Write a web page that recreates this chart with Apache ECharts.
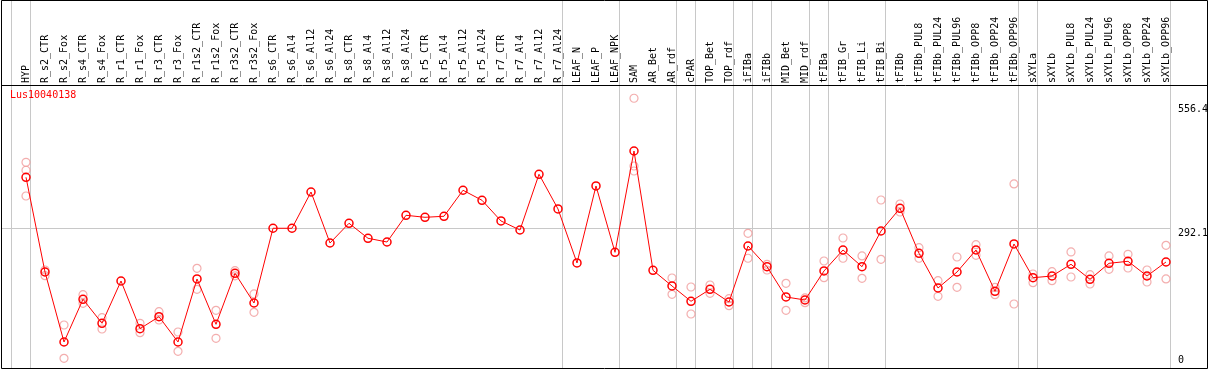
<!DOCTYPE html>
<html><head><meta charset="utf-8">
<script src="https://cdn.jsdelivr.net/npm/echarts@6/dist/echarts.min.js"></script>
<style>html,body{margin:0;padding:0;background:#fff}#c{width:1209px;height:370px}</style>
</head><body><div id="c"></div>
<script>
const categories = ['HYP','R_s2_CTR','R_s2_Fox','R_s4_CTR','R_s4_Fox','R_r1_CTR','R_r1_Fox','R_r3_CTR','R_r3_Fox','R_r1s2_CTR','R_r1s2_Fox','R_r3s2_CTR','R_r3s2_Fox','R_s6_CTR','R_s6_Al4','R_s6_Al12','R_s6_Al24','R_s8_CTR','R_s8_Al4','R_s8_Al12','R_s8_Al24','R_r5_CTR','R_r5_Al4','R_r5_Al12','R_r5_Al24','R_r7_CTR','R_r7_Al4','R_r7_Al12','R_r7_Al24','LEAF_N','LEAF_P','LEAF_NPK','SAM','AR_Bet','AR_rdf','cPAR','TOP_Bet','TOP_rdf','iFIBa','iFIBb','MID_Bet','MID_rdf','tFIBa','tFIB_Gr','tFIB_Li','tFIB_Bi','tFIBb','tFIBb_PUL8','tFIBb_PUL24','tFIBb_PUL96','tFIBb_OPP8','tFIBb_OPP24','tFIBb_OPP96','sXYLa','sXYLb','sXYLb_PUL8','sXYLb_PUL24','sXYLb_PUL96','sXYLb_OPP8','sXYLb_OPP24','sXYLb_OPP96'];
const meanValues = [400.6,199.2,50.4,141.2,90.2,180.1,78.7,104.2,50.4,184.4,88.0,196.5,133.3,292.2,292.2,369.3,260.9,302.8,270.9,263.0,319.8,315.5,317.7,373.0,351.7,307.7,288.5,407.0,333.2,218.4,382.1,241.1,456.5,202.8,169.5,136.9,162.4,135.4,254.5,210.5,146.1,139.7,201.4,246.0,210.5,286.4,334.7,239.0,165.2,199.2,246.0,158.2,258.8,187.1,190.7,215.6,183.7,217.7,222.0,190.7,220.5];
const rep1 = [432.5,203.5,86.5,151.0,102.1,null,90.2,114.8,71.7,207.1,117.8,202.0,152.5,null,null,null,null,null,null,null,null,null,null,null,null,null,null,null,null,null,null,null,568.6,null,186.5,167.3,171.6,142.5,281.5,215.6,175.2,144.0,222.6,271.5,233.3,352.3,343.8,250.9,180.7,231.1,257.3,166.7,386.4,195.0,199.9,241.8,193.5,233.3,236.9,203.5,256.0];
const rep2 = [415.5,191.4,15.7,132.7,78.0,null,70.2,97.2,30.6,162.4,58.3,191.0,113.5,null,null,null,null,null,null,null,null,null,null,null,null,null,null,null,null,null,null,null,424.6,null,151.8,109.9,153.9,127.6,228.4,203.5,117.8,134.0,187.1,228.4,185.8,226.2,326.8,228.4,147.6,166.7,234.7,151.0,131.2,176.5,180.7,188.6,173.7,205.0,207.7,178.0,184.4];
const rep3 = [360.8,null,null,null,null,null,null,null,null,null,null,null,null,null,null,null,null,null,null,null,null,null,null,null,null,null,null,null,null,null,null,null,414.0,null,null,null,null,null,null,null,null,null,null,null,null,null,null,null,null,null,null,null,null,null,null,null,null,null,null,null,null];
const groupBreaks = [0,1,29,32,35,36,38,39,40,42,43,46,53,54,61];
const axisTickLabels = [556.4, 292.1, 0];
const refLineValue = 292.1;
const geneName = 'Lus10040138';

const FONT = 'DejaVu Sans Mono';

function pairs(arr){ const out=[]; arr.forEach((v,i)=>{ if(v!==null) out.push([i,v]); }); return out; }

const chart = echarts.init(document.getElementById('c'), null, {renderer:'canvas'});
const repSeries = [rep1,rep2,rep3].map(r=>({
  type:'scatter', data:pairs(r), symbol:'circle', symbolSize:8, z:2,
  itemStyle:{color:'rgba(0,0,0,0)', borderColor:'#f09a9a', borderWidth:1.2}, silent:true
}));
chart.setOption({
  animation:false,
  title:{text:geneName, left:10, top:90, padding:0, textStyle:{color:'#ff0000', fontSize:10, fontFamily:FONT, fontWeight:'normal'}},
  grid:{left:7, right:24, top:85, bottom:4.3},
  xAxis:{type:'value', position:'top', min:-1, max:61, interval:1,
    axisLine:{show:false}, axisTick:{show:false}, splitLine:{show:false},
    axisLabel:{rotate:90, margin:2, fontFamily:FONT, fontSize:10, color:'#000',
      formatter:v=>categories[v]||''}},
  yAxis:{type:'value', min:0, max:596.8, show:false},
  series:[...repSeries, {
    type:'line', data:pairs(meanValues), symbol:'circle', symbolSize:8, z:5,
    lineStyle:{color:'#ff0000', width:1},
    itemStyle:{color:'rgba(0,0,0,0)', borderColor:'#ff0000', borderWidth:1.5}, silent:true
  }]
});

const g = [];
groupBreaks.forEach(k=>{
  const x = Math.round(chart.convertToPixel({xAxisIndex:0}, k-15/19))+0.5;
  g.push({type:'line', shape:{x1:x,y1:0,x2:x,y2:368}, style:{stroke:'#c8c8c8', lineWidth:1}, z:0});
});
const xr = Math.round(chart.convertToPixel({xAxisIndex:0}, 61-15/19));
const yRef = Math.round(chart.convertToPixel({yAxisIndex:0}, refLineValue))+0.5;
g.push({type:'line', shape:{x1:1,y1:yRef,x2:xr,y2:yRef}, style:{stroke:'#c8c8c8', lineWidth:1}, z:0});
axisTickLabels.forEach(v=>{
  const y = chart.convertToPixel({yAxisIndex:0}, v);
  g.push({type:'text', x:1178, y:y, style:{text:String(v), fontFamily:FONT, fontSize:10, fill:'#000', textVerticalAlign: v===0?'bottom':'top', verticalAlign: v===0?'bottom':'top'}, z:10});
});
g.push({type:'rect', shape:{x:1.5,y:0.5,width:1206,height:368}, style:{fill:'none', stroke:'#000', lineWidth:1}, z:20});
g.push({type:'line', shape:{x1:1,y1:85.5,x2:1207,y2:85.5}, style:{stroke:'#000', lineWidth:1}, z:20});
chart.setOption({graphic:g});
</script></body></html>
